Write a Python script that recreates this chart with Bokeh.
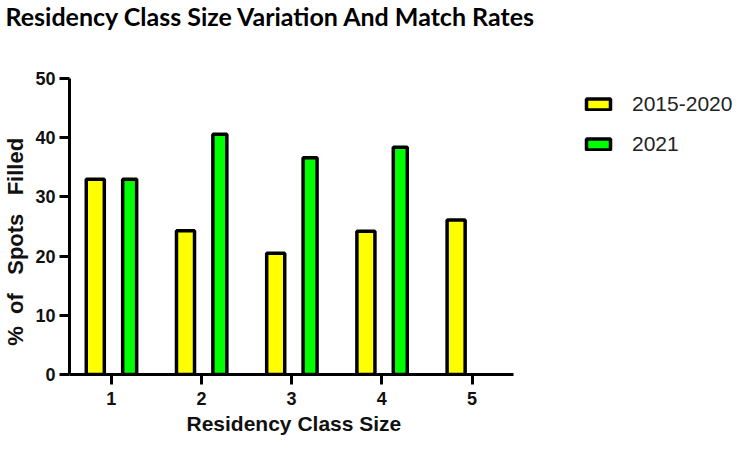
from bokeh.plotting import figure
from bokeh.models import Legend, LegendItem, FixedTicker, Range1d, Title
from bokeh.embed import file_html
from bokeh.resources import INLINE

# ---- data ----
class_sizes = [1, 2, 3, 4, 5]
tick_labels = ["1", "2", "3", "4", "5"]
rate_2015_2020 = [33.0, 24.3, 20.5, 24.2, 26.1]
sizes_2021 = [1, 2, 3, 4]
rate_2021 = [33.0, 40.6, 36.6, 38.4]
series_names = ["2015-2020", "2021"]

YELLOW = "#FFFF00"
GREEN = "#00FF00"
NB = "\u00a0"

X_START, X_AXIS_END, X_END = 0.538, 5.455, 7.91

p = figure(width=734, height=436, output_backend="svg", toolbar_location=None,
           x_range=Range1d(X_START, X_END), y_range=Range1d(0, 50),
           min_border_left=64, min_border_right=0, min_border_top=0,
           min_border_bottom=0)

p.title.text = "Residency Class Size Variation And Match Rates"
p.title.text_font = "Lato"
p.title.text_font_style = "bold"
p.title.text_font_size = "25px"
p.title.text_color = "#000000"
p.title.align = "left"
p.title.offset = -64
p.title.vertical_align = "top"
p.title.standoff = 0
# empty spacer between title and plot area
p.add_layout(Title(text=" ", text_font_size="1px", standoff=43), "above")

x_y = [c - 0.176 for c in class_sizes]
x_g = [c + 0.205 for c in sizes_2021]
r1 = p.vbar(x=x_y, top=rate_2015_2020, bottom=0, width=0.20, fill_color=YELLOW,
            line_color="black", line_width=3.5)
r2 = p.vbar(x=x_g, top=rate_2021, bottom=0, width=0.155, fill_color=GREEN,
            line_color="black", line_width=3.5)

p.xgrid.visible = False
p.ygrid.visible = False
p.outline_line_color = None

for ax in (p.xaxis[0], p.yaxis[0]):
    ax.axis_line_width = 3
    ax.axis_line_color = "black"
    ax.major_tick_line_width = 3
    ax.major_tick_line_color = "black"
    ax.major_tick_in = 0
    ax.major_tick_out = 10
    ax.minor_tick_line_color = None
    ax.major_label_text_font = "Liberation Sans"
    ax.major_label_text_font_style = "bold"
    ax.major_label_text_font_size = "18px"
    ax.major_label_text_color = "#111111"
    ax.axis_label_text_font = "Liberation Sans"
    ax.axis_label_text_font_style = "bold"
    ax.axis_label_text_color = "#111111"

p.xaxis.bounds = (X_START, X_AXIS_END)
p.xaxis.ticker = FixedTicker(ticks=class_sizes)
p.xaxis.major_label_overrides = {c: t for c, t in zip(class_sizes, tick_labels)}
p.xaxis.major_label_standoff = 7

# x-axis title, centred under the drawn axis
p.add_layout(Title(text="Residency Class Size", text_font="Liberation Sans",
                   text_font_style="bold", text_font_size="21px",
                   text_color="#111111", align="left", offset=117,
                   vertical_align="bottom", standoff=4), "below")

p.yaxis.ticker = FixedTicker(ticks=[0, 10, 20, 30, 40, 50])
p.yaxis.axis_label = "%" + NB * 2 + "of" + NB * 3 + "Spots" + NB * 3 + "Filled" + NB * 5
p.yaxis.axis_label_text_font_size = "22px"
p.yaxis.major_label_standoff = 4
p.yaxis.axis_label_standoff = 4

legend = Legend(items=[LegendItem(label=series_names[0], renderers=[r1]),
                       LegendItem(label=series_names[1], renderers=[r2])],
                location=(514, 218), orientation="vertical",
                glyph_width=30, glyph_height=14, label_standoff=19,
                label_text_font="Liberation Sans", label_text_font_size="21px",
                label_text_color="#222222", spacing=16, padding=0, margin=0,
                border_line_color=None, background_fill_alpha=0)
p.add_layout(legend, "center")

open("out.html", "w").write(file_html(p, INLINE))
